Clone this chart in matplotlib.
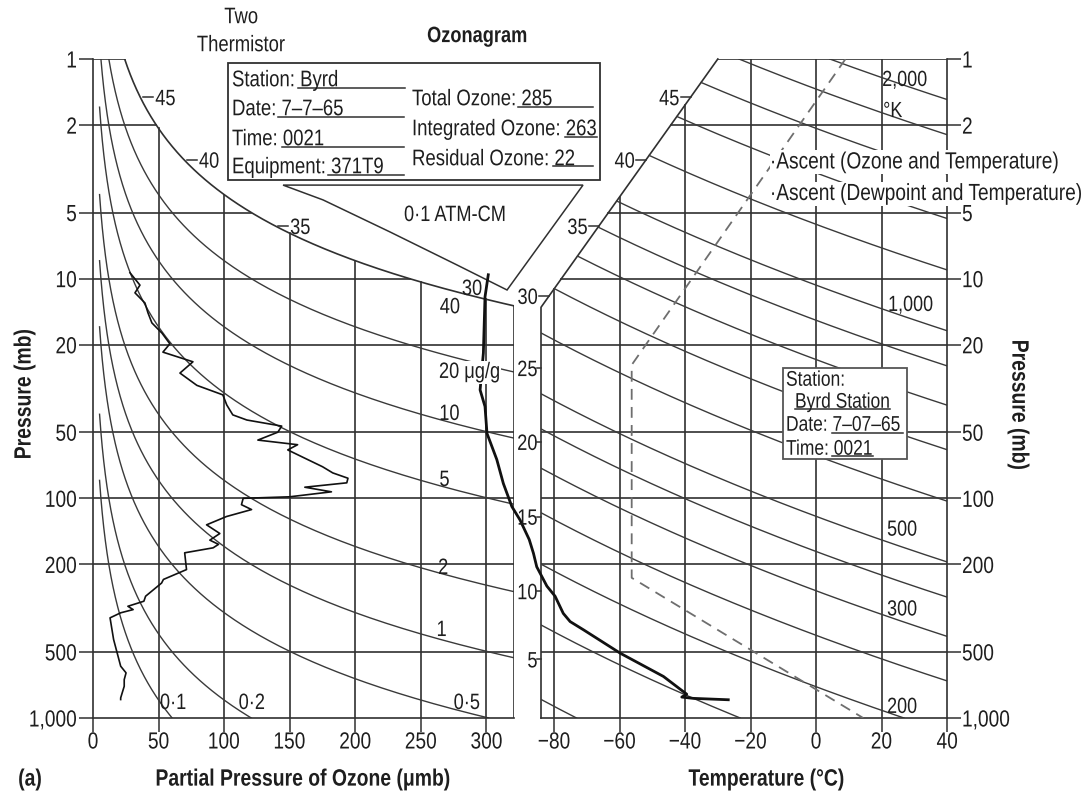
import numpy as np
import matplotlib
matplotlib.use("Agg")
import matplotlib.pyplot as plt
from matplotlib.font_manager import FontProperties
from matplotlib.patches import Rectangle, Polygon, PathPatch
from matplotlib.lines import Line2D
from matplotlib.textpath import TextPath
from matplotlib.transforms import Affine2D, IdentityTransform
from matplotlib.ticker import NullLocator

# ---------------- data ----------------
pressure_ticks = [1, 2, 5, 10, 20, 50, 100, 200, 500, 1000]
pressure_labels = ["1", "2", "5", "10", "20", "50", "100", "200", "500", "1,000"]
ozone_ticks = [0, 50, 100, 150, 200, 250, 300]
temp_ticks = [-80, -60, -40, -20, 0, 20, 40]

# ozone mixing-ratio lines (ug/g) and where their labels sit (x in umb, p in mb)
mixing_ratios = [0.1, 0.2, 0.5, 1, 2, 5, 10, 20]
mixing_labels = ["0·1", "0·2", "0·5", "1", "2", "5", "10", "20 μg/g"]
mixing_label_x = [61, 121, 285, 266, 267, 268, 272, 287]
mixing_label_p = [836, 836, 836, 389, 203, 80.7, 40.4, 26.0]
top_ratio = 40

# standard-atmosphere altitude scale
altitude_km = [5, 10, 15, 20, 25, 30, 35, 40, 45]
altitude_p = [540.5, 264.4, 121.1, 55.3, 25.5, 11.97, 5.75, 2.87, 1.49]

# potential-temperature lines (K)
theta_levels = [200, 250, 300, 350, 400, 450, 500, 600, 700, 800, 900,
                1000, 1200, 1400, 1600, 1800, 2000]
theta_labels = ["2,000", "1,000", "500", "300", "200"]
theta_label_t = [20.2, 22.0, 21.7, 21.7, 21.7]
theta_label_p = [1.22, 12.9, 136, 314, 872]

# ozone sounding: partial pressure (umb) vs pressure (mb)
ozone_p = [9.4, 10.7, 11.6, 12.9, 14.3, 15.9, 17.7, 19.8, 21.6, 23.9, 26.9,
           30.6, 33.8, 37.6, 41.7, 44.0, 46.9, 50.0, 54.3, 57.0, 60.2, 65.0,
           71.8, 76.6, 81.0, 85.0, 89.0, 93.4, 98.4, 100.0, 106.9, 112.5,
           121.0, 132.0, 144.6, 155.0, 162.0, 168.0, 177.0, 211.0, 234.0,
           243.0, 279.0, 294.0, 310.0, 321.0, 332.0, 350.0, 439.0, 505.0,
           581.0, 623.0, 669.0, 717.0, 810.0, 824.0]
ozone_pp = [28.2, 35.8, 32.0, 39.6, 41.9, 44.9, 52.6, 58.6, 53.3, 76.2, 66.3,
            79.2, 99.0, 102.0, 106.6, 117.3, 143.9, 140.9, 125.7, 156.0, 148.5,
            160.0, 175.0, 182.8, 194.4, 193.5, 161.5, 181.8, 150.0, 114.5,
            113.2, 120.9, 101.8, 86.6, 96.7, 89.1, 95.7, 91.6, 69.9, 71.3,
            53.7, 52.3, 40.1, 38.8, 26.6, 30.6, 21.1, 13.0, 15.7, 18.4, 21.1,
            25.2, 23.8, 23.8, 21.1, 21.1]

# temperature ascent (deg C) vs pressure (mb)
temp_p = [9.6, 12.1, 21.8, 32.1, 38.2, 50.6, 66.6, 85.6, 109, 125.5, 154,
          178, 205, 251, 279, 334, 364, 397, 507, 647, 779, 803, 814, 826]
temp_c = [-100.1, -101.1, -101.6, -102.6, -101.1, -100.5, -97.5, -95.5,
          -92.9, -90.4, -87.6, -86.3, -85.3, -82.2, -79.7, -77.2, -75.1,
          -71.0, -59.8, -46.6, -39.5, -41.0, -37.5, -26.8]

# dewpoint / temperature ascent (dashed)
dew_p = [1.0, 24.7, 230, 1000]
dew_c = [9.0, -56.3, -56.3, 14.4]

# integrated-ozone template wedge ("0.1 ATM-CM")
wedge_x = [144.9, 373.6, 315.7, 277.5, 226.5, 175.4]
wedge_p = [3.75, 3.75, 11.26, 8.66, 6.13, 4.38]

# ---------------- style ----------------
INK = "#303030"
CURVE = "#3a3a3a"
TXT = "#1e1e1e"
FS_TICK = 16.8
FS_LAB = 16.0
FS_BOX = 16.3
FS_SBOX = 15.3
FS_AX = 17.0
FS_TITLE = 16.0
FS_ASC = 16.8

W, H, DPI = 1092, 794, 100
PT = DPI / 72.0
XS = 0.82  # horizontal condensing of the lettering
FP = {"normal": FontProperties(family=["Liberation Sans", "DejaVu Sans"]),
      "bold": FontProperties(family=["Liberation Sans", "DejaVu Sans"],
                             weight="bold")}

fig = plt.figure(figsize=(W / DPI, H / DPI), dpi=DPI, facecolor="white")


def px_rect(x0, y0, x1, y1):
    return [x0 / W, 1 - y1 / H, (x1 - x0) / W, (y1 - y0) / H]


def draw_text(X, Y, s, size, weight="normal", ha="left", rot=0.0,
              color=TXT, white_bg=False, zorder=6):
    """Condensed lettering placed in display pixels; Y is the cap-height centre."""
    tp = TextPath((0, 0), s, size=size, prop=FP[weight])
    ext = tp.get_extents()
    ox = {"left": 0.0, "center": 0.5 * (ext.x0 + ext.x1), "right": ext.x1}[ha]
    oy = 0.729 * size / 2
    tr = (Affine2D().translate(-ox, -oy).scale(XS * PT, PT)
          .rotate_deg(rot).translate(X, Y))
    if white_bg:
        x0 = (ext.x0 - ox) * XS * PT - 2
        x1 = (ext.x1 - ox) * XS * PT + 2
        y0 = (min(ext.y0, 0) - oy) * PT - 1
        y1 = (max(ext.y1, 0.729 * size) - oy) * PT + 1
        fig.add_artist(Rectangle((X + x0, Y + y0), x1 - x0, y1 - y0,
                                 transform=IdentityTransform(), fc="white",
                                 ec="none", zorder=zorder - 0.5))
    fig.add_artist(PathPatch(tp, transform=tr, fc=color, ec="none", lw=0,
                             zorder=zorder))


def dtext(ax, x, y, s, size=FS_LAB, **kw):
    X, Y = ax.transData.transform((x, y))
    draw_text(X, Y, s, size, **kw)


def ptext(x, y, s, size=FS_LAB, **kw):
    draw_text(x, H - y, s, size, **kw)


axL = fig.add_axes(px_rect(93, 59, 514, 718))
axR = fig.add_axes(px_rect(541, 59, 947, 718))

XMAX = 321.0
axL.set_xlim(0, XMAX)
axR.set_xlim(-84, 40)

for ax in (axL, axR):
    ax.set_yscale("log")
    ax.set_ylim(1000, 1)
    ax.yaxis.set_minor_locator(NullLocator())
    ax.set_yticks(pressure_ticks)
    ax.tick_params(direction="out", length=10, width=1.1, color=INK,
                   labelleft=False, labelbottom=False, labelright=False)
    ax.patch.set_alpha(0)
    for s in ax.spines.values():
        s.set_color(INK)
        s.set_linewidth(1.2)

axL.set_xticks(ozone_ticks)
axL.spines["top"].set_visible(False)
axL.spines["right"].set_visible(False)

axR.set_xticks(temp_ticks)
axR.spines["top"].set_visible(False)
axR.spines["left"].set_visible(False)
axR.yaxis.tick_right()
axR.tick_params(labelright=False)

# tick labels
for p, lab in zip(pressure_ticks, pressure_labels):
    X, Y = axL.transData.transform((0, p))
    draw_text(X - 17, Y, lab, FS_TICK, ha="right")
    X, Y = axR.transData.transform((40, p))
    draw_text(X + 15, Y, lab, FS_TICK, ha="left")
for v in ozone_ticks:
    X, _ = axL.transData.transform((v, 1000))
    draw_text(X, H - 740, str(v), FS_TICK, ha="center")
for v in temp_ticks:
    X, _ = axR.transData.transform((v, 1000))
    draw_text(X, H - 740, ("−" + str(-v)) if v < 0 else str(v), FS_TICK,
              ha="center")

LW_GRID = 1.2
LW_CURVE = 1.0

# ---------------- left panel: ozone partial pressure ----------------
K_O3 = 1.657  # molecular weight ratio O3 / air


def ratio_x(r, p):
    return r * np.asarray(p) / K_O3


p_top_edge = XMAX * K_O3 / top_ratio
for p in pressure_ticks[1:-1]:
    axL.plot([0, min(XMAX, ratio_x(top_ratio, p))], [p, p], color=INK, lw=LW_GRID)
for x in ozone_ticks[1:]:
    axL.plot([x, x], [1000, x * K_O3 / top_ratio], color=INK, lw=LW_GRID)
axL.plot([0, ratio_x(top_ratio, 1)], [1, 1], color=INK, lw=LW_GRID)
axL.plot([XMAX, XMAX], [1000, p_top_edge], color=INK, lw=LW_GRID)

for r in mixing_ratios:
    p0 = max(1.0, 5 * K_O3 / r)
    p1 = min(1000.0, XMAX * K_O3 / r)
    pp = np.logspace(np.log10(p0), np.log10(p1), 300)
    axL.plot(ratio_x(r, pp), pp, color=CURVE, lw=LW_CURVE)
pp = np.logspace(0, np.log10(p_top_edge), 300)
axL.plot(ratio_x(top_ratio, pp), pp, color=INK, lw=LW_GRID)

for lab, x, p in zip(mixing_labels, mixing_label_x, mixing_label_p):
    dtext(axL, x, p, lab, ha="center", white_bg=("μ" in lab))
dtext(axL, 272, 13.2, str(top_ratio), ha="center")

for km, p in zip(altitude_km, altitude_p):
    if km in (35, 40, 45):
        xc = float(ratio_x(top_ratio, p))
        axL.plot([xc + 2.3, xc + 9.9], [p, p], color=INK, lw=1.1)
        dtext(axL, xc + 11.5, p, str(km), ha="left")
dtext(axL, 289, 10.9, "30", ha="center")

axL.add_patch(Polygon(np.column_stack([wedge_x, wedge_p]), closed=True,
                      fill=False, ec=INK, lw=1.1, clip_on=False))
dtext(axL, 275.7, 5.02, "0·1 ATM-CM", ha="center")

axL.plot(ozone_pp, ozone_p, color="#111111", lw=1.2, zorder=4)

# ---------------- right panel: temperature ----------------
T_LEFT, T_TOPLEFT, P_KNEE = -84.0, -30.0, 13.5


def diag_t(p):
    return T_TOPLEFT + (T_LEFT - T_TOPLEFT) * np.log10(p) / np.log10(P_KNEE)


def left_t(p):
    p = np.asarray(p, dtype=float)
    return np.where(p >= P_KNEE, T_LEFT, diag_t(p))


for t in temp_ticks[:-1]:
    if t >= T_TOPLEFT:
        ptop = 1.0
    else:
        ptop = 10 ** (np.log10(P_KNEE) * (t - T_TOPLEFT) / (T_LEFT - T_TOPLEFT))
    axR.plot([t, t], [1000, ptop], color=INK, lw=LW_GRID)
for p in pressure_ticks[1:-1]:
    axR.plot([float(left_t(p)), 40], [p, p], color=INK, lw=LW_GRID)
axR.plot([T_TOPLEFT, 40], [1, 1], color=INK, lw=LW_GRID)
axR.plot([T_LEFT, T_LEFT, T_TOPLEFT], [1000, P_KNEE, 1], color=INK, lw=LW_GRID,
         clip_on=False)

pp = np.logspace(0, 3, 3000)
for th in theta_levels:
    tt = th * (pp / 1000.0) ** 0.286 - 273.15
    ok = (tt >= left_t(pp)) & (tt <= 40)
    axR.plot(np.where(ok, tt, np.nan), pp, color=CURVE, lw=LW_CURVE)

for lab, t, p in zip(theta_labels, theta_label_t, theta_label_p):
    dtext(axR, t, p, lab, size=15.8, ha="left")
dtext(axR, 20.5, 1.69, "°K", size=15.8, ha="left")

for km, p in zip(altitude_km, altitude_p):
    if p >= P_KNEE:
        axR.plot([T_LEFT - 1.2, T_LEFT], [p, p], color=INK, lw=1.1, clip_on=False)
        dtext(axR, T_LEFT - 1.3, p, str(km), ha="right")
    else:
        td = float(diag_t(p))
        axR.plot([td - 3.05, td], [p, p], color=INK, lw=1.1, clip_on=False)
        dtext(axR, td - 3.7, p, str(km), ha="right")

axR.plot(dew_c, dew_p, color="#6e6e6e", lw=1.3, dashes=(6, 4), zorder=4)
axR.plot(temp_c, temp_p, color="#111111", lw=2.0, zorder=4, clip_on=False)

dtext(axR, -14.1, 2.88, "·Ascent (Ozone and Temperature)", size=FS_ASC,
      white_bg=True)
dtext(axR, -14.1, 4.01, "·Ascent (Dewpoint and Temperature)", size=FS_ASC,
      white_bg=True)

# ---------------- annotation boxes ----------------
def fline(x0, x1, y, lw=1.1):
    fig.add_artist(Line2D([x0 / W, x1 / W], [1 - y / H, 1 - y / H],
                          color=INK, lw=lw, zorder=5))


fig.add_artist(Rectangle((228 / W, 1 - 180 / H), (600 - 228) / W, (180 - 63) / H,
                         transform=fig.transFigure, fc="white", ec=INK,
                         lw=1.3, zorder=3))
info_left = [("Station: Byrd", 78, 298, 405, 88),
             ("Date: 7–7–65", 107, 278, 404, 117),
             ("Time: 0021", 137, 282, 404, 147),
             ("Equipment: 371T9", 165, 328, 404, 175)]
info_right = [("Total Ozone: 285", 97, 518, 593, 107),
              ("Integrated Ozone: 263", 127, 565, 597, 137),
              ("Residual Ozone: 22", 157, 553, 593, 166)]
for s, y, u0, u1, uy in info_left:
    ptext(232, y, s, size=FS_BOX)
    fline(u0, u1, uy)
for s, y, u0, u1, uy in info_right:
    ptext(412, y, s, size=FS_BOX)
    fline(u0, u1, uy)

fig.add_artist(Rectangle((783 / W, 1 - 459 / H), (907 - 783) / W, (459 - 368) / H,
                         transform=fig.transFigure, fc="white", ec="#555555",
                         lw=1.3, zorder=3))
ptext(786, 378, "Station:", size=FS_SBOX)
ptext(795, 400, "Byrd Station", size=FS_SBOX)
fline(795, 890, 409)
ptext(786, 423, "Date: 7–07–65", size=FS_SBOX)
fline(832, 903, 433)
ptext(786, 447, "Time: 0021", size=FS_SBOX)
fline(832, 873, 456)

# ---------------- titles and axis labels ----------------
ptext(241, 15, "Two", size=16.2, ha="center")
ptext(241, 43, "Thermistor", size=16.2, ha="center")
ptext(477, 34, "Ozonagram", size=FS_TITLE, weight="bold", ha="center")
ptext(30, 777, "(a)", size=FS_AX, weight="bold", ha="center")
ptext(303, 777, "Partial Pressure of Ozone (μmb)", size=FS_AX, weight="bold",
      ha="center")
ptext(766, 777, "Temperature (°C)", size=FS_AX, weight="bold", ha="center")
ptext(22, 394, "Pressure (mb)", size=FS_AX, weight="bold", ha="center", rot=90)
ptext(1021, 405, "Pressure (mb)", size=FS_AX, weight="bold", ha="center",
      rot=-90)

fig.savefig("out.png", dpi=DPI, facecolor="white")
